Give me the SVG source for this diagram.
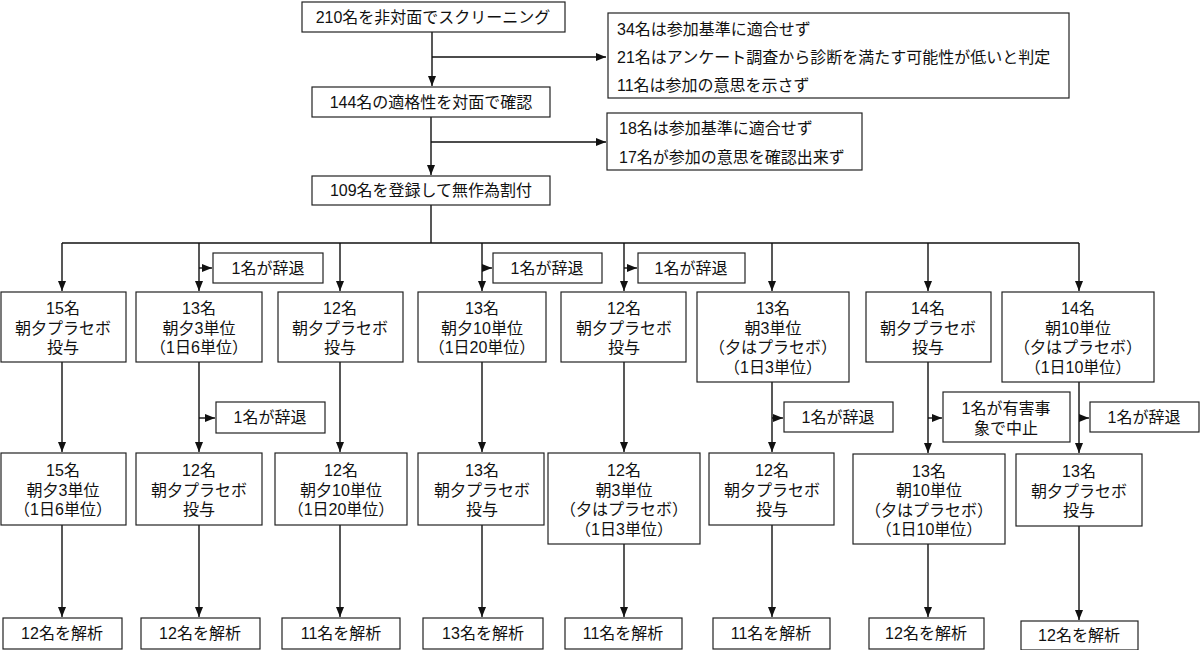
<svg xmlns="http://www.w3.org/2000/svg" width="1200" height="650" viewBox="0 0 1200 650">
<style>
.b{fill:#fff;stroke:#222;stroke-width:1.2}
.t{font-family:"Liberation Sans","Noto Sans CJK JP","Noto Sans CJK SC",sans-serif;font-size:16px;fill:#111;text-anchor:middle;dominant-baseline:central}
.l{text-anchor:start}
.c{fill:none;stroke:#111;stroke-width:1.4}
</style>
<defs>
<marker id="ah" viewBox="0 0 10 8" refX="10" refY="4" markerWidth="10" markerHeight="8" markerUnits="userSpaceOnUse" orient="auto">
<path d="M0,0 L10,4 L0,8 z" fill="#111"/>
</marker>
</defs>
<rect width="1200" height="650" fill="#fff"/>

<g id="connectors">
<path class="c" d="M432,32 V86" marker-end="url(#ah)"/>
<path class="c" d="M432,57 H606" marker-end="url(#ah)"/>
<path class="c" d="M431,117 V175" marker-end="url(#ah)"/>
<path class="c" d="M431,142 H606" marker-end="url(#ah)"/>
<path class="c" d="M431,205 V243"/>
<path class="c" d="M62,243 H1079"/>
<path class="c" d="M62,243 V291" marker-end="url(#ah)"/>
<path class="c" d="M199,243 V291" marker-end="url(#ah)"/>
<path class="c" d="M340,243 V291" marker-end="url(#ah)"/>
<path class="c" d="M482,243 V291" marker-end="url(#ah)"/>
<path class="c" d="M624,243 V291" marker-end="url(#ah)"/>
<path class="c" d="M772,243 V291" marker-end="url(#ah)"/>
<path class="c" d="M928,243 V291" marker-end="url(#ah)"/>
<path class="c" d="M1079,243 V291" marker-end="url(#ah)"/>
<path class="c" d="M199,268 H212" marker-end="url(#ah)"/>
<path class="c" d="M482,268 H492" marker-end="url(#ah)"/>
<path class="c" d="M624,268 H637" marker-end="url(#ah)"/>

<path class="c" d="M62,362 V452" marker-end="url(#ah)"/>
<path class="c" d="M199,362 V452" marker-end="url(#ah)"/>
<path class="c" d="M340,362 V452" marker-end="url(#ah)"/>
<path class="c" d="M482,362 V452" marker-end="url(#ah)"/>
<path class="c" d="M624,362 V452" marker-end="url(#ah)"/>
<path class="c" d="M772,382 V452" marker-end="url(#ah)"/>
<path class="c" d="M928,362 V453" marker-end="url(#ah)"/>
<path class="c" d="M1079,382 V453" marker-end="url(#ah)"/>
<path class="c" d="M199,418 H215" marker-end="url(#ah)"/>
<path class="c" d="M772,418 H783" marker-end="url(#ah)"/>
<path class="c" d="M928,418 H942" marker-end="url(#ah)"/>
<path class="c" d="M1079,418 H1089" marker-end="url(#ah)"/>

<path class="c" d="M62,525 V617" marker-end="url(#ah)"/>
<path class="c" d="M199,525 V617" marker-end="url(#ah)"/>
<path class="c" d="M340,525 V617" marker-end="url(#ah)"/>
<path class="c" d="M482,525 V617" marker-end="url(#ah)"/>
<path class="c" d="M624,544 V617" marker-end="url(#ah)"/>
<path class="c" d="M772,525 V617" marker-end="url(#ah)"/>
<path class="c" d="M928,544 V617" marker-end="url(#ah)"/>
<path class="c" d="M1079,526 V620" marker-end="url(#ah)"/>
</g>

<g id="screen"><rect class="b" x="302" y="2" width="263" height="30"/><text class="t" x="433" y="17">210名を非対面でスクリーニング</text></g>
<g id="excl1"><rect class="b" x="608" y="13" width="461" height="85"/>
<text class="t l" x="617" y="29">34名は参加基準に適合せず</text>
<text class="t l" x="617" y="57">21名はアンケート調査から診断を満たす可能性が低いと判定</text>
<text class="t l" x="617" y="85">11名は参加の意思を示さず</text></g>
<g id="confirm"><rect class="b" x="312" y="87" width="238" height="30"/><text class="t" x="431" y="102">144名の適格性を対面で確認</text></g>
<g id="excl2"><rect class="b" x="607" y="113" width="255" height="57"/>
<text class="t l" x="619" y="128">18名は参加基準に適合せず</text>
<text class="t l" x="619" y="157">17名が参加の意思を確認出来ず</text></g>
<g id="random"><rect class="b" x="312" y="176" width="238" height="29"/><text class="t" x="431" y="190">109名を登録して無作為割付</text></g>

<g id="w1"><rect class="b" x="213" y="253" width="110" height="30"/><text class="t" x="268" y="268">1名が辞退</text></g>
<g id="w2"><rect class="b" x="493" y="253" width="109" height="30"/><text class="t" x="547" y="268">1名が辞退</text></g>
<g id="w3"><rect class="b" x="638" y="253" width="107" height="30"/><text class="t" x="691" y="268">1名が辞退</text></g>

<g id="a1"><rect class="b" x="1" y="292" width="125" height="70"/><text class="t" y="308"><tspan x="63">15名</tspan><tspan x="63" dy="19.5">朝夕プラセボ</tspan><tspan x="63" dy="19.5">投与</tspan></text></g>
<g id="a2"><rect class="b" x="136" y="292" width="126" height="70"/><text class="t" y="308"><tspan x="199">13名</tspan><tspan x="199" dy="19.5">朝夕3単位</tspan><tspan x="199" dy="19.5">（1日6単位）</tspan></text></g>
<g id="a3"><rect class="b" x="278" y="292" width="125" height="70"/><text class="t" y="308"><tspan x="340">12名</tspan><tspan x="340" dy="19.5">朝夕プラセボ</tspan><tspan x="340" dy="19.5">投与</tspan></text></g>
<g id="a4"><rect class="b" x="418" y="292" width="128" height="70"/><text class="t" y="308"><tspan x="482">13名</tspan><tspan x="482" dy="19.5">朝夕10単位</tspan><tspan x="482" dy="19.5">（1日20単位）</tspan></text></g>
<g id="a5"><rect class="b" x="561" y="292" width="125" height="70"/><text class="t" y="308"><tspan x="624">12名</tspan><tspan x="624" dy="19.5">朝夕プラセボ</tspan><tspan x="624" dy="19.5">投与</tspan></text></g>
<g id="a6"><rect class="b" x="697" y="292" width="152" height="90"/><text class="t" y="308"><tspan x="773">13名</tspan><tspan x="773" dy="19.5">朝3単位</tspan><tspan x="773" dy="19.5">（夕はプラセボ）</tspan><tspan x="773" dy="19.5">（1日3単位）</tspan></text></g>
<g id="a7"><rect class="b" x="866" y="292" width="125" height="70"/><text class="t" y="308"><tspan x="928">14名</tspan><tspan x="928" dy="19.5">朝夕プラセボ</tspan><tspan x="928" dy="19.5">投与</tspan></text></g>
<g id="a8"><rect class="b" x="1002" y="292" width="152" height="90"/><text class="t" y="308"><tspan x="1078">14名</tspan><tspan x="1078" dy="19.5">朝10単位</tspan><tspan x="1078" dy="19.5">（夕はプラセボ）</tspan><tspan x="1078" dy="19.5">（1日10単位）</tspan></text></g>

<g id="w4"><rect class="b" x="216" y="402" width="109" height="31"/><text class="t" x="270" y="417.5">1名が辞退</text></g>
<g id="w5"><rect class="b" x="784" y="402" width="109" height="30"/><text class="t" x="838" y="417">1名が辞退</text></g>
<g id="ae"><rect class="b" x="943" y="392" width="127" height="50"/><text class="t" y="408"><tspan x="1006">1名が有害事</tspan><tspan x="1006" dy="20">象で中止</tspan></text></g>
<g id="w6"><rect class="b" x="1090" y="402" width="109" height="30"/><text class="t" x="1144" y="417">1名が辞退</text></g>

<g id="b1"><rect class="b" x="1" y="453" width="125" height="72"/><text class="t" y="470"><tspan x="63">15名</tspan><tspan x="63" dy="19.5">朝夕3単位</tspan><tspan x="63" dy="19.5">（1日6単位）</tspan></text></g>
<g id="b2"><rect class="b" x="136" y="453" width="126" height="72"/><text class="t" y="470"><tspan x="199">12名</tspan><tspan x="199" dy="19.5">朝夕プラセボ</tspan><tspan x="199" dy="19.5">投与</tspan></text></g>
<g id="b3"><rect class="b" x="275" y="453" width="132" height="72"/><text class="t" y="470"><tspan x="341">12名</tspan><tspan x="341" dy="19.5">朝夕10単位</tspan><tspan x="341" dy="19.5">（1日20単位）</tspan></text></g>
<g id="b4"><rect class="b" x="418" y="453" width="126" height="72"/><text class="t" y="470"><tspan x="482">13名</tspan><tspan x="482" dy="19.5">朝夕プラセボ</tspan><tspan x="482" dy="19.5">投与</tspan></text></g>
<g id="b5"><rect class="b" x="548" y="453" width="152" height="91"/><text class="t" y="470"><tspan x="624">12名</tspan><tspan x="624" dy="19.5">朝3単位</tspan><tspan x="624" dy="19.5">（夕はプラセボ）</tspan><tspan x="624" dy="19.5">（1日3単位）</tspan></text></g>
<g id="b6"><rect class="b" x="709" y="453" width="125" height="72"/><text class="t" y="470"><tspan x="772">12名</tspan><tspan x="772" dy="19.5">朝夕プラセボ</tspan><tspan x="772" dy="19.5">投与</tspan></text></g>
<g id="b7"><rect class="b" x="853" y="454" width="152" height="90"/><text class="t" y="470.5"><tspan x="929">13名</tspan><tspan x="929" dy="19.5">朝10単位</tspan><tspan x="929" dy="19.5">（夕はプラセボ）</tspan><tspan x="929" dy="19.5">（1日10単位）</tspan></text></g>
<g id="b8"><rect class="b" x="1016" y="454" width="126" height="72"/><text class="t" y="471"><tspan x="1079">13名</tspan><tspan x="1079" dy="19.5">朝夕プラセボ</tspan><tspan x="1079" dy="19.5">投与</tspan></text></g>

<g id="c1"><rect class="b" x="3" y="618" width="119" height="31"/><text class="t" x="62" y="633.5">12名を解析</text></g>
<g id="c2"><rect class="b" x="141" y="618" width="119" height="31"/><text class="t" x="200" y="633.5">12名を解析</text></g>
<g id="c3"><rect class="b" x="282" y="618" width="118" height="31"/><text class="t" x="341" y="633.5">11名を解析</text></g>
<g id="c4"><rect class="b" x="423" y="618" width="120" height="31"/><text class="t" x="483" y="633.5">13名を解析</text></g>
<g id="c5"><rect class="b" x="565" y="618" width="117" height="31"/><text class="t" x="623" y="633.5">11名を解析</text></g>
<g id="c6"><rect class="b" x="713" y="618" width="117" height="31"/><text class="t" x="771" y="633.5">11名を解析</text></g>
<g id="c7"><rect class="b" x="869" y="618" width="115" height="31"/><text class="t" x="926" y="633.5">12名を解析</text></g>
<g id="c8"><rect class="b" x="1021" y="621" width="117" height="29"/><text class="t" x="1079" y="635.5">12名を解析</text></g>
</svg>
